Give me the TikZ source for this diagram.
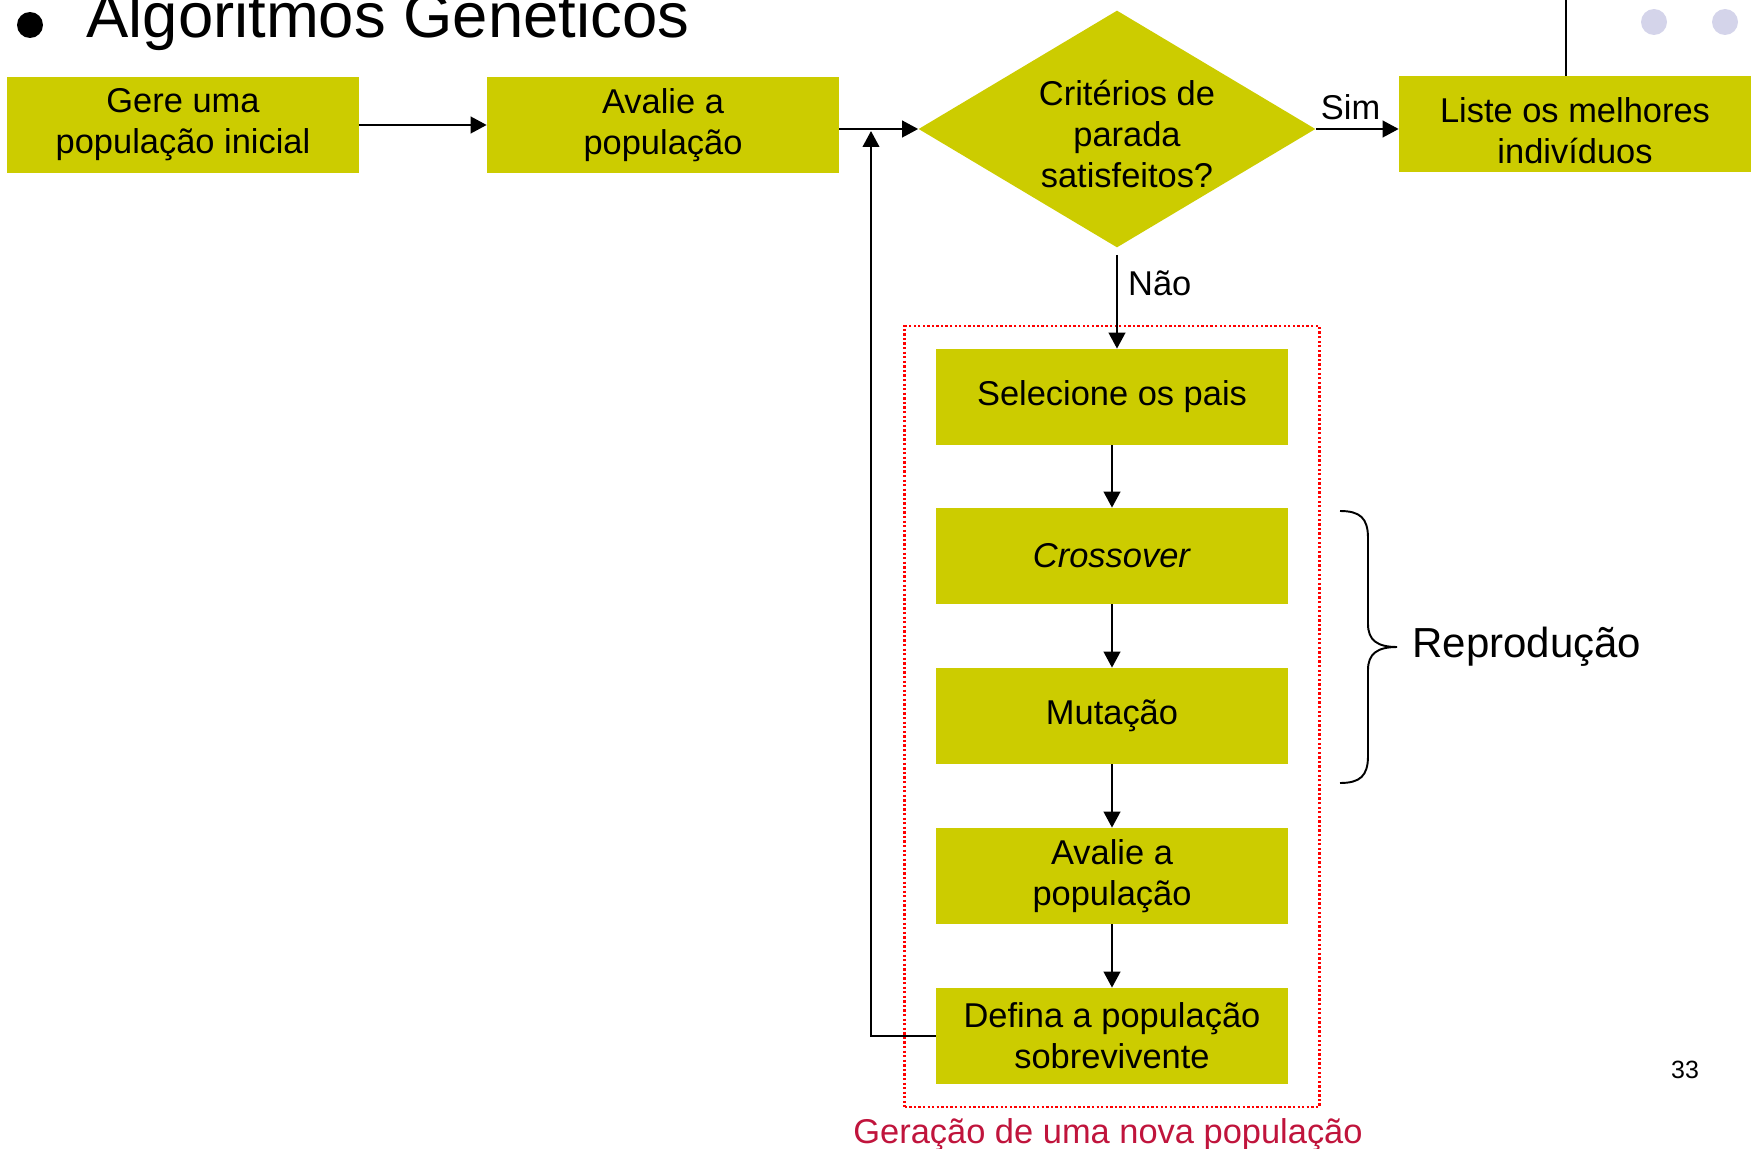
\documentclass[tikz,border=0pt]{standalone}
\usepackage{fontspec}
\setmainfont{Liberation Sans}
\usetikzlibrary{arrows.meta,positioning,fit,shapes.geometric}
\definecolor{oliva}{HTML}{CCCC00}
\definecolor{lavanda}{HTML}{D4D4EA}
\definecolor{carmim}{HTML}{C0143C}
\newcommand{\txt}{\fontsize{19.6}{23.3}\selectfont}

\begin{document}
\begin{tikzpicture}[x=0.02cm, y=-0.02cm,
    passo/.style={rectangle, fill=oliva, minimum width=7.04cm, minimum height=1.92cm, inner sep=0pt, align=center, font=\txt},
    decisao/.style={diamond, fill=oliva, aspect=1.675, minimum width=7.94cm, minimum height=4.74cm, inner sep=0pt},
    seta/.style={draw, line width=1.4pt, -{Triangle[length=0.32cm,width=0.33cm]}},
    rotulo/.style={font=\txt, inner sep=0pt}]
        \useasboundingbox (0,0) rectangle (1752,1149);
        %title
        \node[circle, fill=black, minimum size=0.52cm, inner sep=0pt] (marca) at (30,25) {};
        \node[anchor=base west, inner sep=0pt, font=\fontsize{36.1}{43}\selectfont] (titulo) at (86,38) {Algoritmos Genéticos};
        \node[circle, fill=lavanda, minimum size=0.52cm, inner sep=0pt] (bola1) at (1654,22) {};
        \node[circle, fill=lavanda, minimum size=0.52cm, inner sep=0pt] (bola2) at (1725,22) {};
        %nodes
        \node[passo] (gere) at (183,125) {Gere uma\\população inicial};
        \node[passo] (aval) at (663,125) {Avalie a\\população};
        \node[decisao] (crit) at (1117,129) {};
        \node[rotulo, align=center] (crittxt) at (1127,134) {Critérios de\\parada\\satisfeitos?};
        \node[passo] (liste) at (1575,124) {};
        \node[rotulo, align=center] (listetxt) at (1575,131) {Liste os melhores\\indivíduos};
        \node[passo] (sel) at (1112,397) {Selecione os pais};
        \node[passo] (cross) at (1112,556) {\textit{Crossover}};
        \node[passo] (mut) at (1112,716) {Mutação};
        \node[passo] (aval2) at (1112,876) {Avalie a\\população};
        \node[passo] (def) at (1112,1036) {Defina a população\\sobrevivente};
        \node[draw=red, line width=1.4pt, dash pattern=on 1.3pt off 1.3pt, fit=(sel)(def), inner xsep=0.62cm, inner ysep=0.45cm] (geracao) {};
        \node[rotulo, anchor=base, text=carmim] (geralbl) at (1108,1143) {Geração de uma nova população};
        \node[anchor=west, inner sep=0pt, font=\fontsize{23.9}{28}\selectfont] (repr) at (1412,647) {Reprodução};
        \node[inner sep=0pt, font=\fontsize{14.2}{17}\selectfont] (pagina) at (1685,1070) {33};
        \coordinate (topo) at (1566,0);
        \coordinate (volta) at (871,131);
        %edges
        \draw[line width=0.9pt] (topo) -- (topo |- liste.north);
        \path[seta] (gere) -- (aval);
        \path[seta] (aval.east |- crit) -- (crit.west);
        \path[seta] (crit.east) -- (crit.east -| liste.west) node[rotulo, pos=0.42, above=0.15cm] {Sim};
        \path[seta] ([yshift=-0.14cm]crit.south) -- (crit.south |- sel.north) node[rotulo, pos=0.3, right=0.2cm] {Não};
        \path[seta] (sel) -- (cross);
        \path[seta] (cross) -- (mut);
        \path[seta] (mut) -- (aval2);
        \path[seta] (aval2) -- (def);
        \path[seta] (def.west) -| (volta);
        %brace
        \draw[line width=1.1pt] (1340,511) .. controls (1360,511) and (1368,518) .. (1368,538) -- (1368,624)
            .. controls (1368,640) and (1377,647) .. (1397,647)
            .. controls (1377,647) and (1368,654) .. (1368,670) -- (1368,756)
            .. controls (1368,776) and (1360,783) .. (1340,783);
      \end{tikzpicture}
\end{document}
